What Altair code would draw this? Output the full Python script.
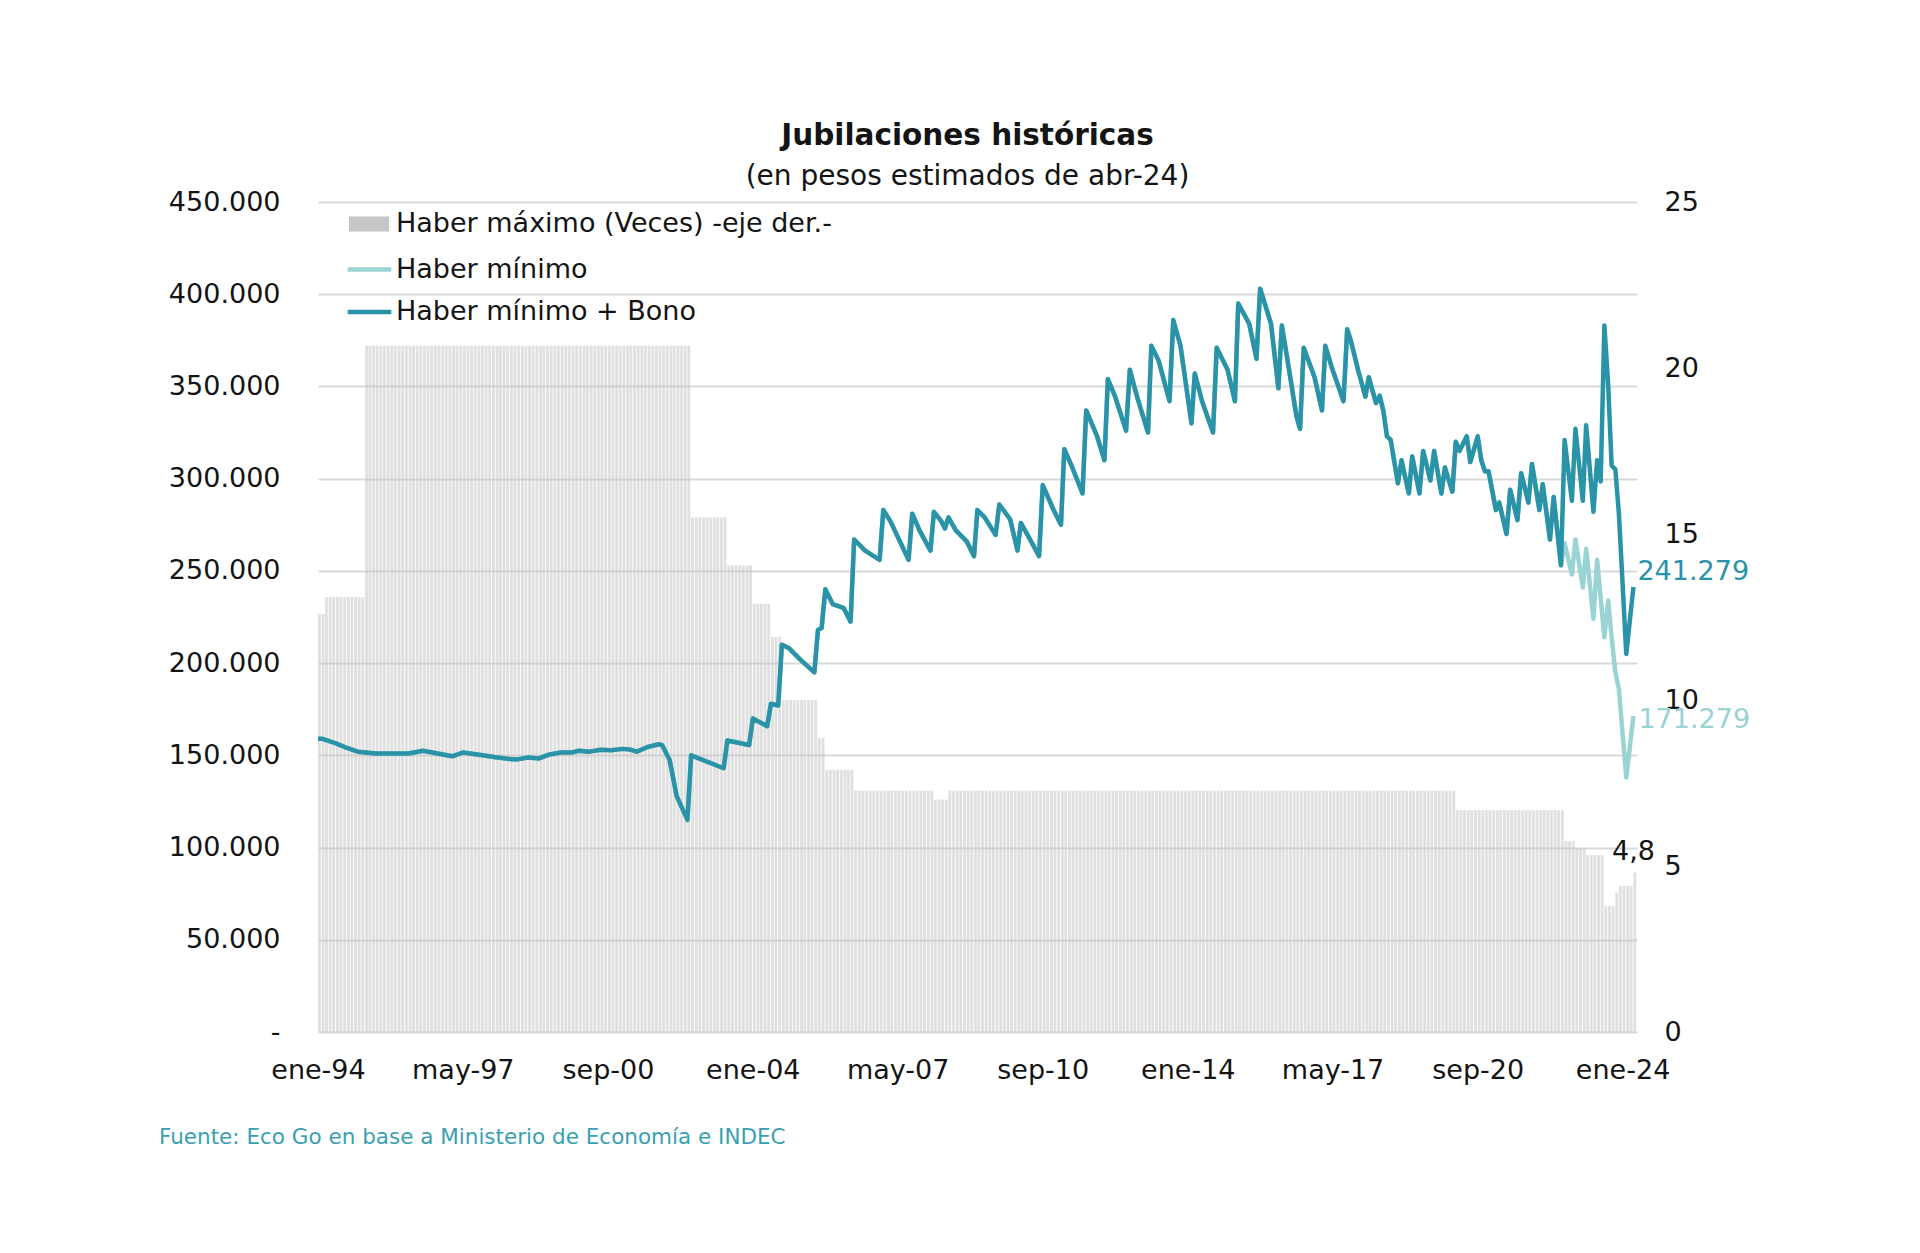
import altair as alt
import pandas as pd

# ---------------- data ----------------
# common history of both lines (Haber mínimo == Haber mínimo + Bono until ago-22)
hist_dates = [
    "1994-01", "1994-02", "1994-06", "1994-09", "1994-12", "1995-05", "1995-09", "1996-02",
    "1996-06", "1996-10", "1997-02", "1997-05", "1997-09", "1998-02", "1998-06", "1998-08",
    "1998-11", "1999-02", "1999-05", "1999-08", "1999-11", "2000-01", "2000-04", "2000-07",
    "2000-10", "2001-01", "2001-03", "2001-05", "2001-08", "2001-11", "2001-12", "2002-02",
    "2002-04", "2002-07", "2002-08", "2003-05", "2003-06", "2003-11", "2003-12", "2004-01",
    "2004-05", "2004-06", "2004-08", "2004-09", "2004-11", "2005-02", "2005-06", "2005-07",
    "2005-08", "2005-09", "2005-11", "2006-02", "2006-04", "2006-05", "2006-08", "2006-12",
    "2007-01", "2007-03", "2007-08", "2007-09", "2007-11", "2008-02", "2008-03", "2008-05",
    "2008-06", "2008-07", "2008-09", "2008-12", "2009-02", "2009-03", "2009-05", "2009-08",
    "2009-09", "2009-12", "2010-02", "2010-03", "2010-05", "2010-08", "2010-09", "2010-12",
    "2011-02", "2011-03", "2011-05", "2011-08", "2011-09", "2011-12", "2012-02", "2012-03",
    "2012-05", "2012-08", "2012-09", "2012-11", "2013-02", "2013-03", "2013-05", "2013-08",
    "2013-09", "2013-11", "2014-02", "2014-03", "2014-05", "2014-08", "2014-09", "2014-12",
    "2015-02", "2015-03", "2015-06", "2015-08", "2015-09", "2015-12", "2016-02", "2016-03",
    "2016-05", "2016-07", "2016-08", "2016-09", "2016-12", "2017-02", "2017-03", "2017-05",
    "2017-08", "2017-09", "2017-10", "2017-12", "2018-02", "2018-03", "2018-05", "2018-06",
    "2018-07", "2018-08", "2018-09", "2018-11", "2018-12", "2019-02", "2019-03", "2019-05",
    "2019-06", "2019-08", "2019-09", "2019-11", "2019-12", "2020-02", "2020-03", "2020-04",
    "2020-06", "2020-07", "2020-09", "2020-10", "2020-11", "2020-12", "2021-02", "2021-03",
    "2021-05", "2021-06", "2021-08", "2021-09", "2021-11", "2021-12", "2022-02", "2022-03",
    "2022-05", "2022-06", "2022-08",
]
hist_values = [
    159000, 159000, 156500, 154000, 152000, 151000, 151000, 151000,
    152500, 151000, 149500, 151500, 150500, 149000, 148000, 147800,
    148800, 148300, 150500, 151500, 151500, 152500, 152000, 153000,
    152800, 153500, 153200, 152000, 154500, 156000, 155500, 147500,
    128000, 115000, 150000, 143000, 158000, 156000, 155500, 170000,
    165800, 178000, 177000, 210000, 208000, 202000, 195000, 218000,
    219000, 240000, 232000, 230000, 222500, 267000, 261000, 256000,
    283000, 277000, 256000, 281000, 272000, 261000, 282000, 277000,
    273000, 279000, 272000, 266000, 258000, 283000, 279000, 269500,
    286000, 278000, 261000, 276000, 269000, 258000, 296500, 283000,
    275000, 316000, 307000, 292000, 337000, 323000, 310000, 354000,
    344500, 326000, 359000, 344500, 325000, 372000, 364000, 342000,
    386000, 372000, 330000, 357000, 342000, 325000, 371000, 359000,
    342000, 395000, 384000, 365000, 403000, 384000, 349000, 383000,
    359000, 334000, 327000, 371000, 355000, 337000, 372000, 359000,
    342000, 381000, 375000, 359000, 344500, 355000, 341000, 345000,
    337000, 323000, 321000, 297500, 310000, 292000, 312000, 292000,
    315000, 299000, 315000, 292000, 306000, 293000, 320000, 315000,
    323000, 309000, 323000, 310000, 304000, 304000, 283000, 287000,
    270000, 294000, 277500, 303000, 287000, 308000, 283000, 297000,
    267000, 290000, 253000,
]
# Haber mínimo + Bono, from sep-22
bono_dates = ["2022-09", "2022-11", "2022-12", "2023-02", "2023-03", "2023-05", "2023-06",
              "2023-07", "2023-08", "2023-09", "2023-10", "2023-11", "2023-12", "2024-02", "2024-04"]
bono_values = [321000, 288000, 327000, 288000, 329000, 282000, 310000,
               298500, 383000, 352000, 307000, 305000, 281000, 205000, 241279]
# Haber mínimo, from sep-22
minimo_dates = ["2022-09", "2022-11", "2022-12", "2023-02", "2023-03", "2023-05", "2023-06",
                "2023-08", "2023-09", "2023-10", "2023-11", "2023-12", "2024-02", "2024-04"]
minimo_values = [265000, 248000, 267000, 241000, 262000, 224000, 256000,
                 214000, 234000, 214000, 195000, 186000, 138000, 171279]

# Haber máximo (veces el mínimo): value holds from each start month until the next one
haber_max_run_start = ["1994-01", "1994-03", "1995-02", "2002-08", "2003-06", "2004-01",
                       "2004-06", "2004-09", "2005-07", "2005-09", "2006-05", "2008-03",
                       "2008-07", "2020-03", "2022-09", "2022-12", "2023-03", "2023-08",
                       "2023-11", "2023-12", "2024-04"]
haber_max_run_value = [12.6, 13.1, 20.67, 15.5, 14.05, 12.9,
                       11.9, 10.0, 8.86, 7.9, 7.27, 7.0,
                       7.27, 6.68, 5.75, 5.53, 5.33, 3.8,
                       4.2, 4.4, 4.8]
last_month = "2024-04"

tick_months = ["1994-01", "1997-05", "2000-09", "2004-01", "2007-05",
               "2010-09", "2014-01", "2017-05", "2020-09", "2024-01"]
month_abbr = ["ene", "feb", "mar", "abr", "may", "jun", "jul", "ago", "sep", "oct", "nov", "dic"]

S_MAX = "Haber máximo (Veces) -eje der.-"
S_MIN = "Haber mínimo"
S_BONO = "Haber mínimo + Bono"

TITLE = "Jubilaciones históricas"
SUBTITLE = "(en pesos estimados de abr-24)"
SOURCE = "Fuente: Eco Go en base a Ministerio de Economía e INDEC"

# ---------------- styling ----------------
FONT = "DejaVu Sans"
DARK = "#2a93a8"
LIGHT = "#9ad3d3"
BAR = "#c6c6c6"
TXT = "#141414"
GRID = "#d9d9d9"


def to_dt(s):
    return pd.Timestamp(s + "-01")


bono_df = pd.DataFrame({
    "date": [to_dt(d) for d in hist_dates + bono_dates],
    "valor": hist_values + bono_values,
    "serie": S_BONO,
})
min_df = pd.DataFrame({
    "date": [to_dt(d) for d in hist_dates + minimo_dates],
    "valor": hist_values + minimo_values,
    "serie": S_MIN,
})

months = pd.date_range(to_dt("1994-01"), to_dt(last_month), freq="MS")
run_starts = [to_dt(d) for d in haber_max_run_start]
veces = []
for m in months:
    cur = None
    for s, v in zip(run_starts, haber_max_run_value):
        if s <= m:
            cur = v
    veces.append(cur)
bar_df = pd.DataFrame({
    "start": months,
    "end": months + pd.Timedelta(days=24),
    "veces": veces,
    "serie": S_MAX,
})
bar_last = bar_df.iloc[[-1]].copy()
bar_last["label"] = bar_last["veces"].map(lambda v: f"{v:.1f}".replace(".", ","))

bono_last = bono_df.iloc[[-1]].copy()
bono_last["label"] = bono_last["valor"].map(lambda v: f"{int(v):,}".replace(",", "."))
min_last = min_df.iloc[[-1]].copy()
min_last["label"] = min_last["valor"].map(lambda v: f"{int(v):,}".replace(",", "."))


def dt(s):
    y, m = s.split("-")
    return alt.DateTime(year=int(y), month=int(m), date=1)


x_scale = alt.Scale(domain=[dt("1994-01"), dt("2024-05")])
abbr_js = "[" + ",".join(f"'{a}'" for a in month_abbr) + "]"


def make_x_axis():
    return alt.Axis(
        values=[dt(t) for t in tick_months],
        labelExpr=abbr_js + "[month(datum.value)] + '-' + timeFormat(datum.value, '%y')",
        title=None, grid=False, ticks=False, domain=False,
        labelFont=FONT, labelFontSize=27, labelColor=TXT, labelPadding=25,
        labelAngle=0, labelFlush=False, labelOverlap=False, labelBound=False,
    )


y_left_scale = alt.Scale(domain=[0, 450000], nice=False)
y_left_axis = alt.Axis(
    orient="left", values=list(range(0, 450001, 50000)),
    labelExpr="datum.value == 0 ? '-\u00a0\u00a0' : replace(format(datum.value, ','), ',', '.')",
    title=None, grid=True, gridColor=GRID, gridWidth=2, ticks=False, domain=False,
    labelFont=FONT, labelFontSize=27, labelColor=TXT, labelPadding=38,
)
y_right_scale = alt.Scale(domain=[0, 25], nice=False)
y_right_axis = alt.Axis(
    orient="right", values=[0, 5, 10, 15, 20, 25],
    title=None, grid=False, ticks=False, domain=False,
    labelFont=FONT, labelFontSize=27, labelColor=TXT, labelPadding=27,
)

fill_legend = alt.Legend(
    orient="none", legendX=31, legendY=2, title=None, padding=0,
    symbolType="M-1,-0.38H1V0.38H-1Z", symbolSize=1600, symbolStrokeWidth=0, symbolOpacity=1,
    labelFont=FONT, labelFontSize=27, labelColor=TXT, labelOffset=7, labelLimit=1000,
)
stroke_legend = alt.Legend(
    orient="none", legendX=27, legendY=43, title=None, padding=0,
    symbolType="stroke", symbolSize=1900, symbolStrokeWidth=4.5, rowPadding=4.5,
    labelFont=FONT, labelFontSize=27, labelColor=TXT, labelOffset=2, labelLimit=1000,
)

bars = alt.Chart(bar_df).mark_bar(fillOpacity=0.55, strokeWidth=0).encode(
    x=alt.X("start:T", scale=x_scale, axis=make_x_axis()),
    x2="end:T",
    y=alt.Y("veces:Q", scale=y_right_scale, axis=y_right_axis),
    y2=alt.datum(0),
    fill=alt.Fill("serie:N", scale=alt.Scale(domain=[S_MAX], range=[BAR]), legend=fill_legend),
)
bar_label = alt.Chart(bar_last).mark_text(
    font=FONT, fontSize=27, color=TXT, align="center", baseline="bottom", dy=-7,
).encode(
    x=alt.X("start:T", scale=x_scale, axis=make_x_axis()),
    y=alt.Y("veces:Q", scale=y_right_scale, axis=y_right_axis),
    text="label:N",
)
bar_layer = alt.layer(bars, bar_label)

stroke_enc = alt.Stroke("serie:N", scale=alt.Scale(domain=[S_MIN, S_BONO], range=[LIGHT, DARK]),
                        legend=stroke_legend)

line_min = alt.Chart(min_df).mark_line(strokeWidth=4.5, strokeJoin="round").encode(
    x=alt.X("date:T", scale=x_scale, axis=make_x_axis()),
    y=alt.Y("valor:Q", scale=y_left_scale, axis=y_left_axis),
    stroke=stroke_enc,
)
line_bono = alt.Chart(bono_df).mark_line(strokeWidth=4.5, strokeJoin="round").encode(
    x=alt.X("date:T", scale=x_scale, axis=make_x_axis()),
    y=alt.Y("valor:Q", scale=y_left_scale, axis=y_left_axis),
    stroke=stroke_enc,
)
lab_bono = alt.Chart(bono_last).mark_text(
    font=FONT, fontSize=27, color=DARK, align="left", baseline="middle", dx=4, dy=-15,
).encode(
    x=alt.X("date:T", scale=x_scale, axis=make_x_axis()),
    y=alt.Y("valor:Q", scale=y_left_scale, axis=y_left_axis),
    text="label:N",
)
lab_min = alt.Chart(min_last).mark_text(
    font=FONT, fontSize=27, color=LIGHT, align="left", baseline="middle", dx=5, dy=4,
).encode(
    x=alt.X("date:T", scale=x_scale, axis=make_x_axis()),
    y=alt.Y("valor:Q", scale=y_left_scale, axis=y_left_axis),
    text="label:N",
)
source = alt.Chart(pd.DataFrame({"t": [SOURCE]})).mark_text(
    font=FONT, fontSize=21.5, color="#3a9fb2", align="left", baseline="middle",
).encode(x=alt.value(-159), y=alt.value(936), text="t:N")

line_layer = alt.layer(line_min, line_bono, lab_bono, lab_min, source)

chart = alt.layer(bar_layer, line_layer).resolve_scale(y="independent").properties(
    width=1319, height=830,
    padding={"left": 310, "top": 194, "right": 275, "bottom": 214},
    autosize=alt.AutoSizeParams(type="none"),
    background="white",
    title=alt.TitleParams(
        text=TITLE, subtitle=SUBTITLE, anchor="middle", frame="group", dx=-10,
        font=FONT, fontSize=29.5, fontWeight="bold", color=TXT,
        subtitleFont=FONT, subtitleFontSize=28, subtitleColor=TXT,
        subtitlePadding=12, offset=-4,
    ),
).configure_view(stroke=None)

chart.save("out.html", embed_options={"renderer": "svg", "actions": False})
